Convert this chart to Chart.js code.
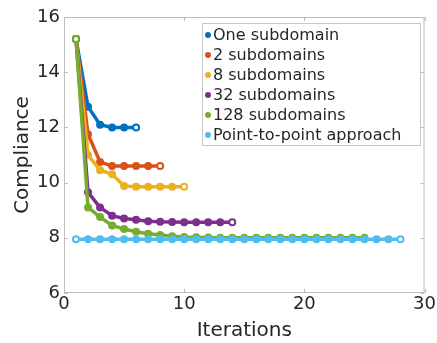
<!DOCTYPE html>
<html>
<head>
<meta charset="utf-8">
<script src="https://cdn.jsdelivr.net/npm/chart.js@4"></script>
<style>
  html, body { margin: 0; padding: 0; background: #fff; }
  #wrap { width: 437px; height: 343px; }
</style>
</head>
<body>
<div id="wrap"><canvas id="grafico"></canvas></div>
<script>
// valores
const labelsSeries = ['One subdomain', '2 subdomains', '8 subdomains', '32 subdomains', '128 subdomains', 'Point-to-point approach'];
const coresSeries = ['#0072BD', '#D95319', '#EDB120', '#7E2F8E', '#77AC30', '#4DBEEE'];

const valoresUm = [15.2, 12.75, 12.1, 12.0, 12.0, 12.0];
const valoresDois = [15.2, 11.75, 10.75, 10.6, 10.6, 10.6, 10.6, 10.6];
const valoresOito = [15.2, 11.0, 10.45, 10.3, 9.88, 9.85, 9.85, 9.85, 9.85, 9.85];
const valores32 = [15.2, 9.65, 9.1, 8.8, 8.7, 8.65, 8.6, 8.58, 8.57, 8.56, 8.56, 8.56, 8.56, 8.56];
const valores128 = [15.2, 9.1, 8.75, 8.45, 8.32, 8.22, 8.15, 8.1, 8.06, 8.03, 8.02, 8.01, 8.0, 8.0, 8.0,
    8.0, 8.0, 8.0, 8.0, 8.0, 8.0, 8.0, 8.0, 8.0, 8.0];
const valoresP2P = [7.95, 7.95, 7.95, 7.95, 7.95, 7.95, 7.95, 7.95, 7.95, 7.95, 7.95, 7.95, 7.95, 7.95,
    7.95, 7.95, 7.95, 7.95, 7.95, 7.95, 7.95, 7.95, 7.95, 7.95, 7.95, 7.95, 7.95, 7.95];

const todasSeries = [valoresUm, valoresDois, valoresOito, valores32, valores128, valoresP2P];

const ticksY = [6, 8, 10, 12, 14, 16];
const ticksX = [0, 10, 20, 30];

const fonte = "'DejaVu Sans', sans-serif";
const corTexto = '#262626';

function pontos(valores) {
    return valores.map((v, i) => ({ x: i + 1, y: v }));
}

const datasets = todasSeries.map((valores, i) => ({
    label: labelsSeries[i],
    data: pontos(valores),
    borderColor: coresSeries[i],
    backgroundColor: coresSeries[i],
    borderWidth: 3.5,
    pointRadius: 3,
    pointBorderWidth: 2,
    pointBorderColor: coresSeries[i],
    pointBackgroundColor: ctx => (ctx.dataIndex === 0 || ctx.dataIndex === valores.length - 1) ? '#fff' : coresSeries[i],
    tension: 0,
    order: 6 - i
}));

// caixa + marcas internas + legenda desenhadas dentro da área do gráfico
const pluginCaixa = {
    id: 'caixa',
    afterDraw(chart) {
        const { ctx, chartArea: a, scales } = chart;
        ctx.save();
        ctx.strokeStyle = '#bdbdbd';
        ctx.lineWidth = 1;
        ctx.strokeRect(a.left + 0.5, a.top + 0.5, a.right - a.left - 1, a.bottom - a.top - 1);
        ctx.beginPath();
        ticksX.forEach(t => {
            const x = Math.round(scales.x.getPixelForValue(t)) + 0.5;
            ctx.moveTo(x, a.bottom); ctx.lineTo(x, a.bottom - 4);
            ctx.moveTo(x, a.top); ctx.lineTo(x, a.top + 4);
        });
        ticksY.forEach(t => {
            const y = Math.round(scales.y.getPixelForValue(t)) + 0.5;
            ctx.moveTo(a.left, y); ctx.lineTo(a.left + 4, y);
            ctx.moveTo(a.right, y); ctx.lineTo(a.right - 4, y);
        });
        ctx.stroke();

        // legenda
        const lx = 202, ly = 23, lw = 218, lh = 122;
        ctx.fillStyle = '#fff';
        ctx.fillRect(lx, ly, lw, lh);
        ctx.strokeStyle = '#c8c8c8';
        ctx.strokeRect(lx + 0.5, ly + 0.5, lw, lh);
        ctx.font = '16px ' + fonte;
        ctx.textBaseline = 'middle';
        labelsSeries.forEach((lab, i) => {
            const y = ly + 12 + i * 20;
            ctx.fillStyle = coresSeries[i];
            ctx.beginPath();
            ctx.arc(lx + 6, y, 3, 0, Math.PI * 2);
            ctx.fill();
            ctx.fillStyle = corTexto;
            ctx.fillText(lab, lx + 11, y + 1);
        });
        ctx.restore();
    }
};

const ctxGrafico = document.getElementById('grafico').getContext('2d');
new Chart(ctxGrafico, {
    type: 'line',
    data: { datasets: datasets },
    options: {
        responsive: true,
        maintainAspectRatio: false,
        animation: false,
        layout: { padding: { top: 17, right: 10, left: 11, bottom: 0 } },
        plugins: {
            legend: { display: false },
            tooltip: { enabled: false }
        },
        scales: {
            x: {
                type: 'linear',
                min: 0,
                max: 30,
                afterBuildTicks: s => { s.ticks = ticksX.map(v => ({ value: v })); },
                afterFit: s => { s.height = 50; },
                grid: { display: false, drawTicks: false },
                border: { display: false },
                ticks: { color: corTexto, font: { family: fonte, size: 18 }, padding: 1, maxRotation: 0 },
                title: { display: true, text: 'Iterations', color: corTexto, font: { family: fonte, size: 20 }, padding: { top: 0, bottom: 0 } }
            },
            y: {
                type: 'linear',
                min: 6,
                max: 16,
                afterBuildTicks: s => { s.ticks = ticksY.map(v => ({ value: v })); },
                afterFit: s => { s.width = 53; },
                grid: { display: false, drawTicks: false },
                border: { display: false },
                ticks: { color: corTexto, font: { family: fonte, size: 18 }, padding: 4 },
                title: { display: true, text: 'Compliance', color: corTexto, font: { family: fonte, size: 20 }, padding: { top: 0, bottom: 2 } }
            }
        }
    },
    plugins: [pluginCaixa]
});
</script>
</body>
</html>
